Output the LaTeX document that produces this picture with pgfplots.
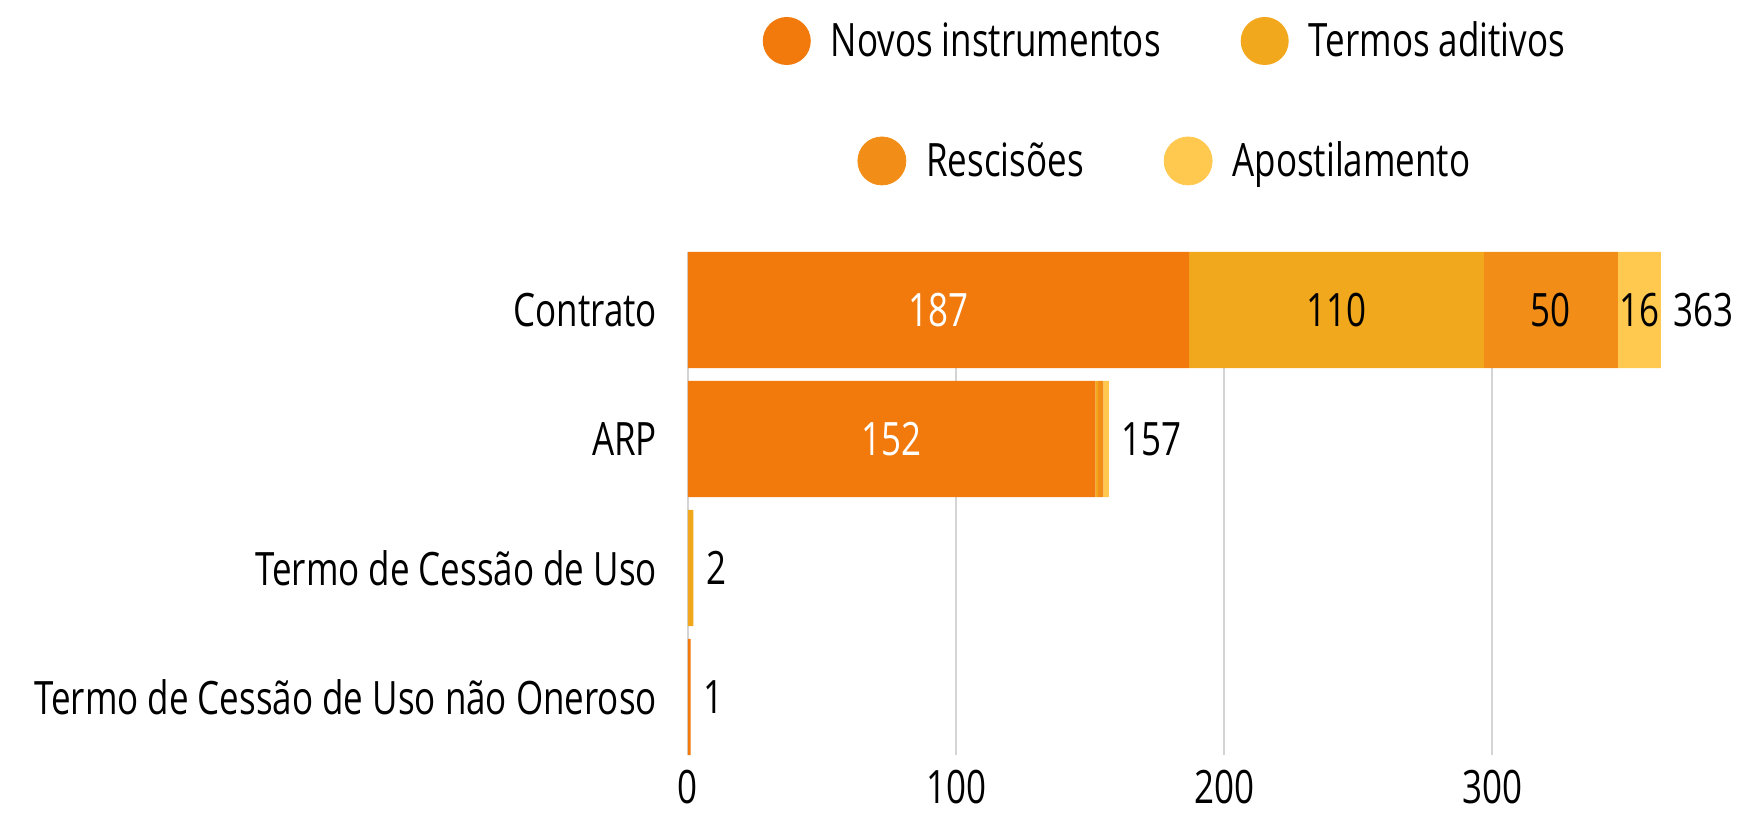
\documentclass[border=0pt]{standalone}
\usepackage{pgfplots}
\pgfplotsset{compat=1.18}
\usepackage{fontspec}
\setmainfont{Open Sans}[FakeStretch=0.76]
\definecolor{cNovos}{HTML}{F27A0D}
\definecolor{cTermos}{HTML}{F2A81C}
\definecolor{cResc}{HTML}{F28E18}
\definecolor{cApost}{HTML}{FFC94F}
\definecolor{cGrid}{HTML}{D4D4D4}
\pgfplotsset{base/.style={
  scale only axis, width=495.8pt, height=251.5pt,
  xmin=0, xmax=370, ymin=-0.45, ymax=3.45,
  at={(0,0)}, anchor=south west,
}}
\begin{document}
\begin{tikzpicture}[font=\fontsize{23}{27}\selectfont]
\useasboundingbox (-344pt,-29.5pt) rectangle (526.5pt,377.5pt);
\begin{axis}[base,
  xbar stacked, bar width=0.9,
  axis line style={draw=none}, tick style={draw=none},
  major tick length=0pt,
  xmajorgrids, grid style={cGrid, line width=0.8pt},
  xtick={0,100,200,300},
  ytick={0,1,2,3},
  yticklabels={Termo de Cessão de Uso não Oneroso, Termo de Cessão de Uso, ARP, Contrato},
  yticklabel style={xshift=-12pt},
  xticklabel style={yshift=-4pt},
  /pgf/number format/assume math mode=true,
  clip=false,
  legend style={at={(0.482,1.4195)}, anchor=center, draw=none, fill=none,
    legend columns=2, font=\fontsize{23}{27}\selectfont,
    /tikz/every odd column/.append style={column sep=8pt},
    /tikz/every even column/.append style={column sep=38pt}},
]
\addplot[fill=cNovos, draw=none, legend image code/.code={\fill[cNovos] (12pt,0pt) circle (12pt);}]
  coordinates {(187,3) (152,2) (0,1) (1,0)};
\addplot[fill=cTermos, draw=none, legend image code/.code={\fill[cTermos] (12pt,0pt) circle (12pt);}]
  coordinates {(110,3) (1,2) (2,1) (0,0)};
\addplot[fill=cResc, draw=none]
  coordinates {(50,3) (2,2) (0,1) (0,0)};
\addplot[fill=cApost, draw=none]
  coordinates {(16,3) (2,2) (0,1) (0,0)};
\legend{Novos instrumentos, Termos aditivos}
\end{axis}
\begin{axis}[base, hide axis, clip=false,
  legend style={at={(0.482,1.181)}, anchor=center, draw=none, fill=none,
    legend columns=2, font=\fontsize{23}{27}\selectfont,
    /tikz/every odd column/.append style={column sep=8pt},
    /tikz/every even column/.append style={column sep=38pt}},
]
\addlegendimage{legend image code/.code={\fill[cResc] (12pt,0pt) circle (12pt);}}
\addlegendimage{legend image code/.code={\fill[cApost] (12pt,0pt) circle (12pt);}}
\addplot[draw=none, mark=none, forget plot, nodes near coords, point meta=explicit symbolic,
  every node near coord/.append style={anchor=center, text=white}]
  table[meta=l] {
x y l
93.5 3 187
76 2 152
};
\addplot[draw=none, mark=none, forget plot, nodes near coords, point meta=explicit symbolic,
  every node near coord/.append style={anchor=center, text=black}]
  table[meta=l] {
x y l
242 3 110
322 3 50
355 3 16
};
\addplot[draw=none, mark=none, forget plot, nodes near coords, point meta=explicit symbolic,
  every node near coord/.append style={anchor=west, xshift=3pt, text=black}]
  table[meta=l] {
x y l
363 3 363
157 2 157
2 1 2
1 0 1
};
\legend{Rescisões, Apostilamento}
\end{axis}
\end{tikzpicture}
\end{document}
